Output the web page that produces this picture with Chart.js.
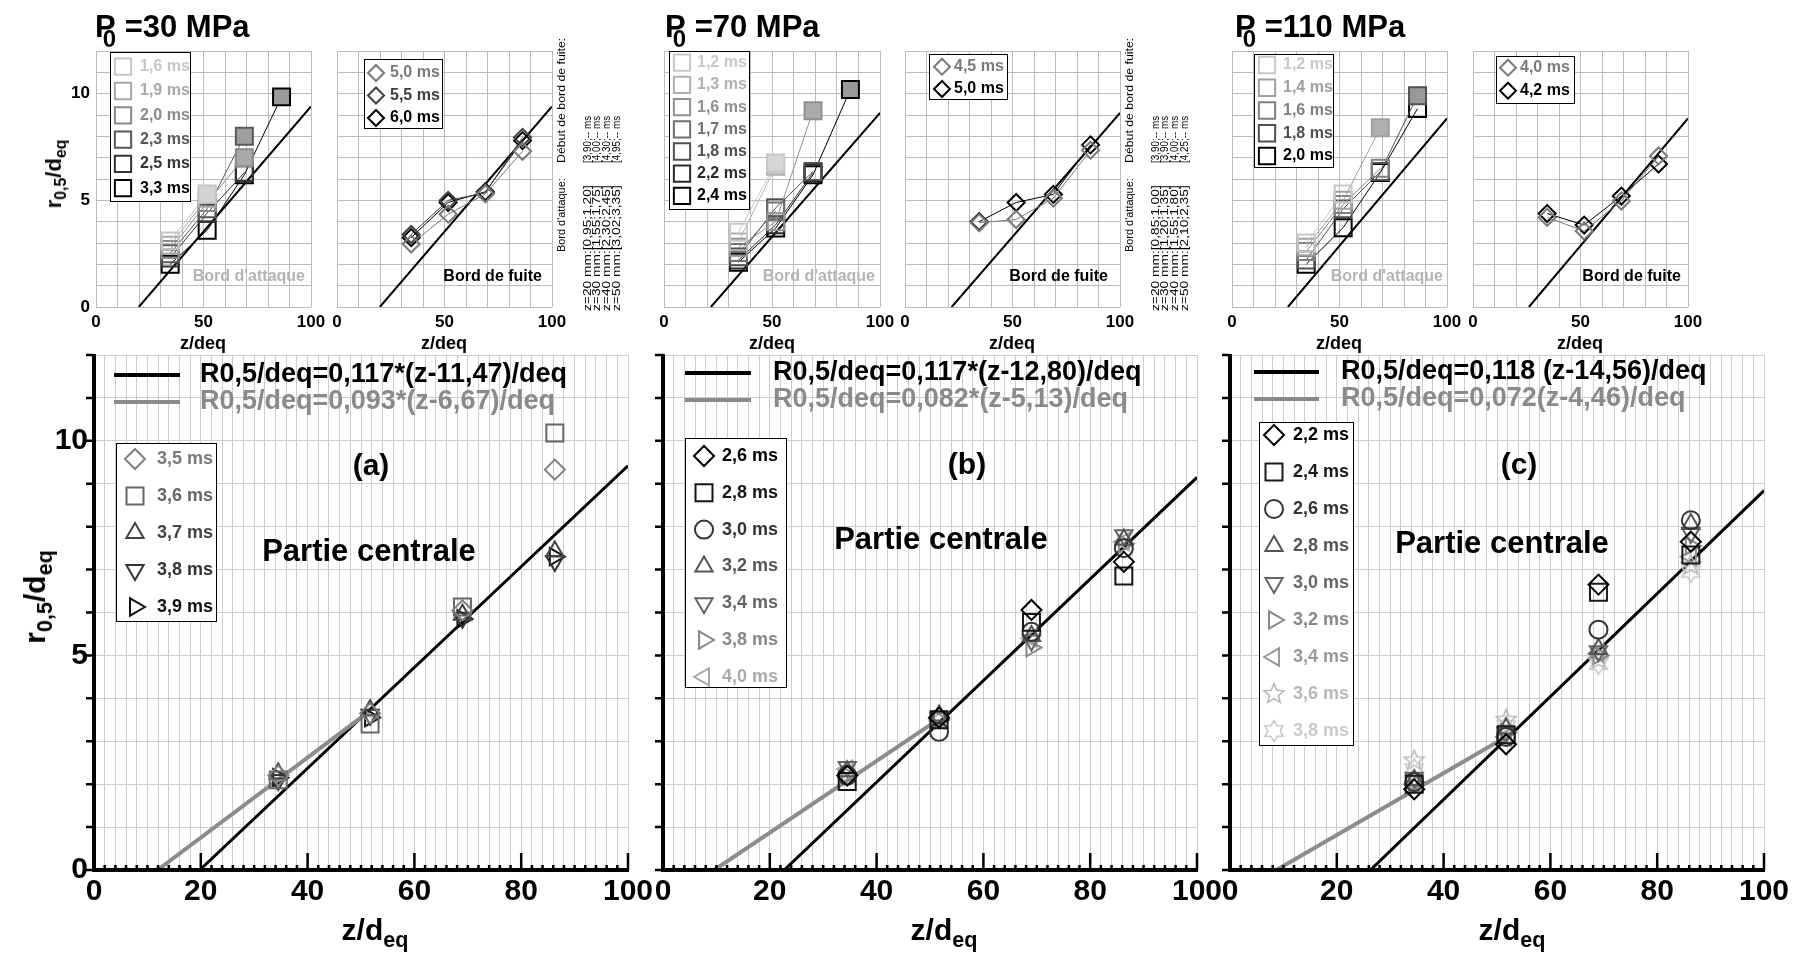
<!DOCTYPE html>
<html lang="fr">
<head>
<meta charset="utf-8">
<title>r0,5/deq en fonction de z/deq</title>
<script src="https://cdn.jsdelivr.net/npm/chart.js@4.4.1/dist/chart.umd.min.js"></script>
<style>
html,body{margin:0;padding:0;background:#fff;}
body{position:relative;width:1796px;height:953px;overflow:hidden;font-family:'Liberation Sans',Arial,Helvetica,sans-serif;}
canvas{position:absolute;left:0;top:0;}
.lbl{position:absolute;font-weight:bold;white-space:nowrap;color:#000;line-height:1;}
.lbl sub{font-size:72%;vertical-align:-0.32em;line-height:0;}
.title{font-size:31px;}
.title sub{font-size:24px;vertical-align:-10px;margin-left:-13px;}
.yt{transform:translate(-50%,-50%) rotate(-90deg);}
.xt{transform:translateX(-50%);}
.annt{position:absolute;transform-origin:0 0;white-space:nowrap;color:#000;font-family:'Liberation Sans',Arial,sans-serif;}
</style>
</head>
<body>
<canvas id="cA1" width="1796" height="953"></canvas>
<canvas id="cA2" width="1796" height="953"></canvas>
<canvas id="cB1" width="1796" height="953"></canvas>
<canvas id="cB2" width="1796" height="953"></canvas>
<canvas id="cC1" width="1796" height="953"></canvas>
<canvas id="cC2" width="1796" height="953"></canvas>
<canvas id="cMa" width="1796" height="953"></canvas>
<canvas id="cMb" width="1796" height="953"></canvas>
<canvas id="cMc" width="1796" height="953"></canvas>

<div class="lbl title" style="left:95px;top:11px">P<sub>0</sub> =30 MPa</div>
<div class="lbl title" style="left:665px;top:11px">P<sub>0</sub> =70 MPa</div>
<div class="lbl title" style="left:1235px;top:11px">P<sub>0</sub> =110 MPa</div>

<div class="lbl yt" style="left:54px;top:174px;font-size:22px">r<sub>0,5</sub>/d<sub>eq</sub></div>
<div class="lbl yt" style="left:35px;top:597px;font-size:30px">r<sub>0,5</sub>/d<sub>eq</sub></div>

<div class="lbl xt" style="left:203px;top:334px;font-size:18px">z/deq</div>
<div class="lbl xt" style="left:444px;top:334px;font-size:18px">z/deq</div>
<div class="lbl xt" style="left:772px;top:334px;font-size:18px">z/deq</div>
<div class="lbl xt" style="left:1012px;top:334px;font-size:18px">z/deq</div>
<div class="lbl xt" style="left:1339px;top:334px;font-size:18px">z/deq</div>
<div class="lbl xt" style="left:1580px;top:334px;font-size:18px">z/deq</div>

<div class="lbl xt" style="left:375px;top:915px;font-size:30px">z/d<sub>eq</sub></div>
<div class="lbl xt" style="left:944px;top:915px;font-size:30px">z/d<sub>eq</sub></div>
<div class="lbl xt" style="left:1512px;top:915px;font-size:30px">z/d<sub>eq</sub></div>

<script>
// ======================= DATA =======================
const zPos = [34.5, 51.7, 69.0, 86.3];          // z/deq for z = 20, 30, 40, 50 mm
const mainXTickLabels = [0, 20, 40, 60, 80, 100];
const mainYTickLabels = [0, 5, 10];
const smallXTickLabels = [0, 50, 100];
const smallYTickLabels = [0, 5, 10];

// ---- P0 = 30 MPa ----
const a1Labels = ['1,6 ms', '1,9 ms', '2,0 ms', '2,3 ms', '2,5 ms', '3,3 ms'];
const a1r16 = [3.1, 5.3, null, null];
const a1r19 = [2.9, 5.1, null, null];
const a1r20 = [2.7, 4.9, 7.0, null];
const a1r23 = [2.5, 4.6, 8.0, null];
const a1r25 = [2.3, 4.4, 6.3, null];
const a1r33 = [2.0, 3.6, 6.2, 9.85];
const a2Labels = ['5,0 ms', '5,5 ms', '6,0 ms'];
const a2r50 = [2.95, 4.35, 5.3, 7.3];
const a2r55 = [3.4, 5.0, 5.35, 7.95];
const a2r60 = [3.25, 4.9, 5.4, 7.8];
const aSmallFitX = [19.9, 100];
const aSmallFitY = [0, 9.4];
const maLabels = ['3,5 ms', '3,6 ms', '3,7 ms', '3,8 ms', '3,9 ms'];
const mar35 = [2.2, 3.65, 6.05, 9.33];
const mar36 = [2.1, 3.4, 6.13, 10.18];
const mar37 = [2.25, 3.72, 5.95, 7.42];
const mar38 = [2.1, 3.62, 5.88, 7.2];
const mar39 = [2.15, 3.55, 5.85, 7.3];
const maFitBlackX = [19.8, 100], maFitBlackY = [0, 9.42];
const maFitGrayX = [11.9, 51.6], maFitGrayY = [0, 3.7];
const maEquations = ['R0,5/deq=0,117*(z-11,47)/deq', 'R0,5/deq=0,093*(z-6,67)/deq'];

// ---- P0 = 70 MPa ----
const b1Labels = ['1,2 ms', '1,3 ms', '1,6 ms', '1,7 ms', '1,8 ms', '2,2 ms', '2,4 ms'];
const b1r12 = [3.5, 6.75, null, null];
const b1r13 = [3.05, 6.6, null, null];
const b1r16 = [2.8, 4.0, 9.2, null];
const b1r17 = [2.55, 4.5, null, null];
const b1r18 = [2.35, 4.65, 6.35, null];
const b1r22 = [2.2, 3.85, 6.3, null];
const b1r24 = [2.1, 3.7, 6.2, 10.2];
const b2Labels = ['4,5 ms', '5,0 ms'];
const b2r45 = [3.95, 4.1, 5.1, 7.35];
const b2r50 = [4.0, 4.9, 5.28, 7.6];
const bSmallFitX = [21.7, 100];
const bSmallFitY = [0, 9.1];
const mbLabels = ['2,6 ms', '2,8 ms', '3,0 ms', '3,2 ms', '3,4 ms', '3,8 ms', '4,0 ms'];
const mbr26 = [2.2, 3.55, 6.06, 7.18];
const mbr28 = [2.06, 3.5, 5.77, 6.85];
const mbr30 = [2.2, 3.22, 5.55, 7.5];
const mbr32 = [2.3, 3.6, 5.45, 7.7];
const mbr34 = [2.4, 3.55, 5.35, 7.8];
const mbr38 = [2.2, 3.5, 5.18, 7.6];
const mbr40 = [2.35, 3.5, 5.4, 7.65];
const mbFitBlackX = [22.7, 100], mbFitBlackY = [0, 9.15];
const mbFitGrayX = [9.6, 51.1], mbFitGrayY = [0, 3.47];
const mbEquations = ['R0,5/deq=0,117*(z-12,80)/deq', 'R0,5/deq=0,082*(z-5,13)/deq'];

// ---- P0 = 110 MPa ----
const c1Labels = ['1,2 ms', '1,4 ms', '1,6 ms', '1,8 ms', '2,0 ms'];
const c1r12 = [3.0, 5.3, null, null];
const c1r14 = [2.8, 5.0, 8.4, null];
const c1r16 = [2.6, 4.8, 6.5, null];
const c1r18 = [2.2, 4.6, 6.35, 9.9];
const c1r20 = [2.0, 3.72, 6.3, 9.3];
const c2Labels = ['4,0 ms', '4,2 ms'];
const c2r40 = [4.2, 3.56, 4.97, 7.08];
const c2r42 = [4.38, 3.84, 5.2, 6.7];
const cSmallFitX = [26.0, 100];
const cSmallFitY = [0, 8.84];
const mcLabels = ['2,2 ms', '2,4 ms', '2,6 ms', '2,8 ms', '3,0 ms', '3,2 ms', '3,4 ms', '3,6 ms', '3,8 ms'];
const mcr22 = [1.88, 2.93, 6.65, 7.65];
const mcr24 = [2.0, 3.15, 6.47, 7.34];
const mcr26 = [2.05, 3.1, 5.6, 8.15];
const mcr28 = [2.1, 3.3, 5.15, 8.06];
const mcr30 = [2.15, 3.2, 5.1, 7.85];
const mcr32 = [2.05, 3.2, 5.0, 7.55];
const mcr34 = [2.0, 3.1, 5.05, 7.3];
const mcr36 = [2.55, 3.5, 4.9, 7.1];
const mcr38 = [2.35, 3.35, 4.8, 6.95];
const mcFitBlackX = [26.3, 100], mcFitBlackY = [0, 8.84];
const mcFitGrayX = [8.7, 52.4], mcFitGrayY = [0, 3.15];
const mcEquations = ['R0,5/deq=0,118 (z-14,56)/deq', 'R0,5/deq=0,072(z-4,46)/deq'];

// ---- side notes ----
const annHeaders = ["Bord d'attaque:", 'Début de bord de fuite:'];
const annALead = ['z=20 mm:[0,95;1,20]', 'z=30 mm:[1,55;1,75]', 'z=40 mm:[2,30;2,45]', 'z=50 mm:[3,02;3,35]'];
const annATrail = ['[3,90;-- ms', '[4,00;-- ms', '[4,30;-- ms', '[4,95;-- ms'];
const annBLead = ['z=20 mm:[0,85;1,00]', 'z=30 mm:[1,20;1,35]', 'z=40 mm:[1,55;1,80]', 'z=50 mm:[2,10;2,35]'];
const annBTrail = ['[3,90;-- ms', '[3,90;-- ms', '[4,00;-- ms', '[4,25;-- ms'];

// ======================= LAYOUT & STYLE =======================
const W = 1796, H = 953;
const FONT = "'Liberation Sans', Arial, Helvetica, sans-serif";
const areaA1 = {l: 96, t: 51, r: 311, b: 307};
const areaA2 = {l: 337, t: 51, r: 552, b: 307};
const areaB1 = {l: 664, t: 51, r: 880, b: 307};
const areaB2 = {l: 905, t: 51, r: 1120, b: 307};
const areaC1 = {l: 1232, t: 51, r: 1447, b: 307};
const areaC2 = {l: 1473, t: 51, r: 1688, b: 307};
const areaMa = {l: 94, t: 355, r: 628, b: 870};
const areaMb = {l: 663, t: 355, r: 1197, b: 870};
const areaMc = {l: 1230, t: 355, r: 1764, b: 870};

function starCanvas(points, color, size, lw, inner) {
  const c = document.createElement('canvas');
  c.width = size; c.height = size;
  const g = c.getContext('2d');
  g.strokeStyle = color; g.lineWidth = lw; g.lineJoin = 'miter';
  const cx = size / 2, R = size / 2 - lw, r = R * inner;
  g.beginPath();
  for (let i = 0; i < 2 * points; i++) {
    const a = -Math.PI / 2 + i * Math.PI / points;
    const rr = (i % 2) ? r : R;
    g.lineTo(cx + rr * Math.cos(a), cx + rr * Math.sin(a));
  }
  g.closePath(); g.stroke();
  return c;
}
const star5 = starCanvas(5, '#b8b8b8', 24, 1.6, 0.45);
const star6 = starCanvas(6, '#cacaca', 24, 1.6, 0.6);

const TRANSP = 'rgba(255,255,255,0)';

function smallSeries(labels, rows, colors, fillIdx, fillCols, style, radius) {
  return labels.map((lab, i) => ({
    label: lab,
    data: zPos.map((x, j) => ({x: x, y: rows[i][j]})),
    showLine: true, borderColor: colors[i], borderWidth: 1,
    pointStyle: style, pointRadius: radius, pointBorderWidth: 2,
    pointBorderColor: colors[i],
    pointBackgroundColor: zPos.map((_, j) => j === fillIdx[i] ? fillCols[i] : TRANSP),
    textColor: colors[i]
  }));
}
function mainSeries(labels, rows, styles) {
  return labels.map((lab, i) => ({
    label: lab,
    data: zPos.map((x, j) => ({x: x, y: rows[i][j]})),
    showLine: false,
    pointStyle: styles[i].ps, pointRotation: styles[i].rot || 0, pointRadius: styles[i].r,
    pointBorderColor: styles[i].c, pointBackgroundColor: TRANSP, pointBorderWidth: 2,
    borderColor: styles[i].c, backgroundColor: TRANSP,
    textColor: styles[i].t || styles[i].c
  }));
}
function fitLine(xs, ys, color, width) {
  return {label: 'fit', data: xs.map((x, i) => ({x: x, y: ys[i]})), showLine: true,
          borderColor: color, borderWidth: width, pointRadius: 0, noLegend: true};
}

function makeDeco(o) {
  return {
    id: 'deco',
    afterDraw(chart) {
      const ctx = chart.ctx, ca = chart.chartArea, xs = chart.scales.x, ys = chart.scales.y;
      ctx.save();
      if (o.axes) {
        ctx.strokeStyle = '#000'; ctx.lineCap = 'butt';
        ctx.lineWidth = 2.5;
        ctx.beginPath();
        for (let v = 0; v <= 12; v++) {
          const y = ys.getPixelForValue(v);
          ctx.moveTo(ca.left - 8, y); ctx.lineTo(ca.left, y);
        }
        for (let v = 2; v <= 100; v += 2) {
          const x = xs.getPixelForValue(v);
          ctx.moveTo(x, ca.bottom); ctx.lineTo(x, ca.bottom - (v % 20 === 0 ? 17 : 5));
        }
        ctx.stroke();
        ctx.lineWidth = 4;
        ctx.beginPath();
        ctx.moveTo(ca.left, ca.top - 1); ctx.lineTo(ca.left, ca.bottom + 2);
        ctx.moveTo(ca.left - 2, ca.bottom); ctx.lineTo(ca.right + 1, ca.bottom);
        ctx.stroke();
      }
      if (o.eq) {
        o.eq.rows.forEach((row, i) => {
          const y = o.eq.y0 + i * o.eq.dy;
          ctx.strokeStyle = row.color; ctx.lineWidth = 4;
          ctx.beginPath(); ctx.moveTo(o.eq.x1, y); ctx.lineTo(o.eq.x2, y); ctx.stroke();
          ctx.fillStyle = row.color; ctx.font = o.eq.font;
          ctx.textAlign = 'left'; ctx.textBaseline = 'middle';
          ctx.fillText(row.text, o.eq.tx, y);
        });
      }
      if (o.box) {
        const b = o.box;
        ctx.fillStyle = '#fff'; ctx.fillRect(b.x, b.y, b.w, b.h);
        ctx.strokeStyle = '#000'; ctx.lineWidth = 1; ctx.strokeRect(b.x + 0.5, b.y + 0.5, b.w, b.h);
        const items = chart.data.datasets.filter(d => !d.noLegend);
        items.forEach((d, i) => {
          const y = b.y0 + i * b.dy;
          ctx.lineWidth = 2; ctx.strokeStyle = d.pointBorderColor; ctx.fillStyle = TRANSP;
          Chart.helpers.drawPoint(ctx, {pointStyle: d.pointStyle, rotation: d.pointRotation || 0,
            radius: b.r || d.pointRadius, borderWidth: 2}, b.mx, y);
          ctx.fillStyle = d.textColor; ctx.font = b.font;
          ctx.textAlign = 'left'; ctx.textBaseline = 'middle';
          ctx.fillText(d.label, b.tx, y);
        });
      }
      (o.texts || []).forEach(t => {
        ctx.font = t.font; ctx.fillStyle = t.color || '#000';
        ctx.textAlign = t.align || 'center'; ctx.textBaseline = 'middle';
        ctx.fillText(t.text, t.x, t.y);
      });
      ctx.restore();
    }
  };
}

const SMALL_AX = {grid: '#bcbcbc', xStep: 10, xLabels: smallXTickLabels, yLabels: smallYTickLabels,
  xFont: {family: FONT, size: 17, weight: 'bold'}, yFont: {family: FONT, size: 17, weight: 'bold'},
  xPad: 5, yPad: 6};
const MAIN_AX = {grid: '#cdcdcd', xStep: 2, xLabels: mainXTickLabels, yLabels: mainYTickLabels,
  xFont: {family: FONT, size: 30, weight: 'bold'}, yFont: {family: FONT, size: 30, weight: 'bold'},
  xPad: 4, yPad: 6};

function build(id, area, datasets, ax, showY, deco) {
  const YW = 60, XH = 60;
  return new Chart(document.getElementById(id), {
    type: 'scatter',
    data: {datasets: datasets},
    options: {
      responsive: false, animation: false, events: [],
      layout: {padding: {left: area.l - YW, top: area.t, right: W - area.r, bottom: H - area.b - XH}},
      plugins: {legend: {display: false}, tooltip: {enabled: false}},
      elements: {line: {tension: 0}},
      scales: {
        x: {type: 'linear', position: 'bottom', min: 0, max: 100,
            afterFit: s => { s.height = XH; },
            border: {display: false},
            grid: {color: ax.grid, lineWidth: 1, drawTicks: false},
            ticks: {stepSize: ax.xStep, autoSkip: false, maxRotation: 0, minRotation: 0, color: '#000',
                    font: ax.xFont, padding: ax.xPad,
                    callback: v => ax.xLabels.includes(v) ? String(v) : ''}},
        y: {type: 'linear', position: 'left', min: 0, max: 12,
            afterFit: s => { s.width = YW; },
            border: {display: false},
            grid: {color: ax.grid, lineWidth: 1, drawTicks: false},
            ticks: {stepSize: 1, autoSkip: false, color: '#000', font: ax.yFont, padding: ax.yPad,
                    display: showY, callback: v => ax.yLabels.includes(v) ? String(v) : ''}}
      }
    },
    plugins: [makeDeco(deco)]
  });
}

const F16 = 'bold 16px ' + FONT, F18 = 'bold 18px ' + FONT, F27 = 'bold 27px ' + FONT;
const F30 = 'bold 30px ' + FONT, F31 = 'bold 31px ' + FONT;

// ---- small charts ----
build('cA1', areaA1, [
  ...smallSeries(a1Labels, [a1r16, a1r19, a1r20, a1r23, a1r25, a1r33],
    ['#c6c6c6', '#a8a8a8', '#8a8a8a', '#585858', '#333333', '#000000'],
    [1, -1, 2, 2, -1, 3], ['#d4d4d4', '#bbb', '#a9a9a9', '#9e9e9e', '#999', '#9a9a9a'], 'rect', 12),
  fitLine(aSmallFitX, aSmallFitY, '#000', 2)
], SMALL_AX, true, {
  box: {x: 110, y: 52, w: 80, h: 149, y0: 66.7, dy: 24.3, mx: 123, tx: 140, r: 11.5, font: F16},
  texts: [{text: "Bord d'attaque", x: 305, y: 277, align: 'right', color: '#b4b4b4', font: F16}]
});
build('cA2', areaA2, [
  ...smallSeries(a2Labels, [a2r50, a2r55, a2r60], ['#7a7a7a', '#404040', '#000000'],
    [-1, -1, -1], [TRANSP, TRANSP, TRANSP], 'rectRot', 8.5),
  fitLine(aSmallFitX, aSmallFitY, '#000', 2)
], SMALL_AX, false, {
  box: {x: 364, y: 59, w: 78, h: 69, y0: 73, dy: 22.5, mx: 376, tx: 390, r: 8, font: F16},
  texts: [{text: 'Bord de fuite', x: 542, y: 277, align: 'right', color: '#000', font: F16}]
});
build('cB1', areaB1, [
  ...smallSeries(b1Labels, [b1r12, b1r13, b1r16, b1r17, b1r18, b1r22, b1r24],
    ['#c8c8c8', '#b0b0b0', '#909090', '#707070', '#505050', '#2a2a2a', '#000000'],
    [1, 1, 2, -1, -1, -1, 3], ['#d6d6d6', '#cccccc', '#aaaaaa', TRANSP, TRANSP, TRANSP, '#999999'], 'rect', 12),
  fitLine(bSmallFitX, bSmallFitY, '#000', 2)
], SMALL_AX, false, {
  box: {x: 669, y: 51, w: 80, h: 158, y0: 62.7, dy: 22.2, mx: 682, tx: 697, r: 11.5, font: F16},
  texts: [{text: "Bord d'attaque", x: 875, y: 277, align: 'right', color: '#b4b4b4', font: F16}]
});
build('cB2', areaB2, [
  ...smallSeries(b2Labels, [b2r45, b2r50], ['#7a7a7a', '#000000'],
    [-1, -1], [TRANSP, TRANSP], 'rectRot', 8.5),
  fitLine(bSmallFitX, bSmallFitY, '#000', 2)
], SMALL_AX, false, {
  box: {x: 929, y: 54, w: 78, h: 45, y0: 66.7, dy: 22.3, mx: 942, tx: 954, r: 8, font: F16},
  texts: [{text: 'Bord de fuite', x: 1108, y: 277, align: 'right', color: '#000', font: F16}]
});
build('cC1', areaC1, [
  ...smallSeries(c1Labels, [c1r12, c1r14, c1r16, c1r18, c1r20],
    ['#c8c8c8', '#a0a0a0', '#808080', '#505050', '#000000'],
    [-1, 2, -1, 3, -1], [TRANSP, '#b0b0b0', TRANSP, '#999999', TRANSP], 'rect', 12),
  fitLine(cSmallFitX, cSmallFitY, '#000', 2)
], SMALL_AX, false, {
  box: {x: 1254, y: 54, w: 79, h: 113, y0: 65, dy: 22.75, mx: 1267, tx: 1283, r: 11.5, font: F16},
  texts: [{text: "Bord d'attaque", x: 1443, y: 277, align: 'right', color: '#b4b4b4', font: F16}]
});
build('cC2', areaC2, [
  ...smallSeries(c2Labels, [c2r40, c2r42], ['#7a7a7a', '#000000'],
    [-1, -1], [TRANSP, TRANSP], 'rectRot', 8.5),
  fitLine(cSmallFitX, cSmallFitY, '#000', 2)
], SMALL_AX, false, {
  box: {x: 1496, y: 56, w: 78, h: 47, y0: 67.7, dy: 23, mx: 1508, tx: 1520, r: 8, font: F16},
  texts: [{text: 'Bord de fuite', x: 1681, y: 277, align: 'right', color: '#000', font: F16}]
});

// ---- main charts ----
build('cMa', areaMa, [
  ...mainSeries(maLabels, [mar35, mar36, mar37, mar38, mar39], [
    {ps: 'rectRot', r: 10, c: '#808080', t: '#7a7a7a'},
    {ps: 'rect', r: 12, c: '#666666'},
    {ps: 'triangle', r: 10, c: '#444444'},
    {ps: 'triangle', rot: 180, r: 10, c: '#333333'},
    {ps: 'triangle', rot: 90, r: 10, c: '#111111'}]),
  fitLine(maFitGrayX, maFitGrayY, '#8c8c8c', 4),
  fitLine(maFitBlackX, maFitBlackY, '#000', 3)
], MAIN_AX, true, {
  axes: true,
  eq: {x1: 114, x2: 180, tx: 200, y0: 375, dy: 27, font: F27,
       rows: [{text: maEquations[0], color: '#000'}, {text: maEquations[1], color: '#8a8a8a'}]},
  box: {x: 116, y: 443, w: 100, h: 178, y0: 459, dy: 37, mx: 135, tx: 157, font: F18},
  texts: [{text: '(a)', x: 371, y: 467, font: F30}, {text: 'Partie centrale', x: 369, y: 552, font: F31}]
});
build('cMb', areaMb, [
  ...mainSeries(mbLabels, [mbr26, mbr28, mbr30, mbr32, mbr34, mbr38, mbr40], [
    {ps: 'rectRot', r: 10, c: '#000000'},
    {ps: 'rect', r: 12, c: '#151515'},
    {ps: 'circle', r: 9, c: '#333333'},
    {ps: 'triangle', r: 10, c: '#555555'},
    {ps: 'triangle', rot: 180, r: 10, c: '#666666'},
    {ps: 'triangle', rot: 90, r: 10, c: '#888888'},
    {ps: 'triangle', rot: -90, r: 10, c: '#aaaaaa'}]),
  fitLine(mbFitGrayX, mbFitGrayY, '#8c8c8c', 4),
  fitLine(mbFitBlackX, mbFitBlackY, '#000', 3)
], MAIN_AX, false, {
  axes: true,
  eq: {x1: 685, x2: 751, tx: 773, y0: 373, dy: 27, font: F27,
       rows: [{text: mbEquations[0], color: '#000'}, {text: mbEquations[1], color: '#8a8a8a'}]},
  box: {x: 685, y: 438, w: 101, h: 249, y0: 456, dy: 36.8, mx: 704, tx: 722, font: F18},
  texts: [{text: '(b)', x: 967, y: 466, font: F30}, {text: 'Partie centrale', x: 941, y: 540, font: F31}]
});
build('cMc', areaMc, [
  ...mainSeries(mcLabels, [mcr22, mcr24, mcr26, mcr28, mcr30, mcr32, mcr34, mcr36, mcr38], [
    {ps: 'rectRot', r: 10, c: '#000000'},
    {ps: 'rect', r: 12, c: '#1a1a1a'},
    {ps: 'circle', r: 9, c: '#333333'},
    {ps: 'triangle', r: 10, c: '#555555'},
    {ps: 'triangle', rot: 180, r: 10, c: '#666666'},
    {ps: 'triangle', rot: 90, r: 10, c: '#888888'},
    {ps: 'triangle', rot: -90, r: 10, c: '#999999'},
    {ps: star5, r: 10, c: '#b8b8b8'},
    {ps: star6, r: 10, c: '#cacaca'}]),
  fitLine(mcFitGrayX, mcFitGrayY, '#8c8c8c', 4),
  fitLine(mcFitBlackX, mcFitBlackY, '#000', 3)
], MAIN_AX, false, {
  axes: true,
  eq: {x1: 1254, x2: 1319, tx: 1341, y0: 372, dy: 27, font: F27,
       rows: [{text: mcEquations[0], color: '#000'}, {text: mcEquations[1], color: '#8a8a8a'}]},
  box: {x: 1259, y: 422, w: 94, h: 323, y0: 435, dy: 37, mx: 1274, tx: 1293, font: F18},
  texts: [{text: '(c)', x: 1519, y: 466, font: F30}, {text: 'Partie centrale', x: 1502, y: 544, font: F31}]
});

// ---- rotated side notes (read bottom to top) ----
function annText(text, xc, yStart, fs, stretch) {
  const d = document.createElement('div');
  const L = 11;
  d.className = 'annt';
  d.textContent = text;
  d.style.left = (xc - L / 2) + 'px';
  d.style.top = yStart + 'px';
  d.style.fontSize = fs + 'px';
  d.style.lineHeight = L + 'px';
  d.style.height = L + 'px';
  d.style.transform = 'rotate(-90deg) scaleX(' + stretch + ')';
  document.body.appendChild(d);
}
function fillAnn(edge, lead, trail) {
  annText(annHeaders[0], edge + 9, 252, 11.5, 0.95);
  annText(annHeaders[1], edge + 9, 163, 11.5, 1.07);
  lead.forEach((t, i) => {
    const xc = edge + 35 + i * 9.8;
    annText(t, xc, 311, 11, 1.25);
    annText(trail[i], xc, 163, 11, 0.9);
  });
}
fillAnn(552, annALead, annATrail);
fillAnn(1120, annBLead, annBTrail);
</script>
</body>
</html>
